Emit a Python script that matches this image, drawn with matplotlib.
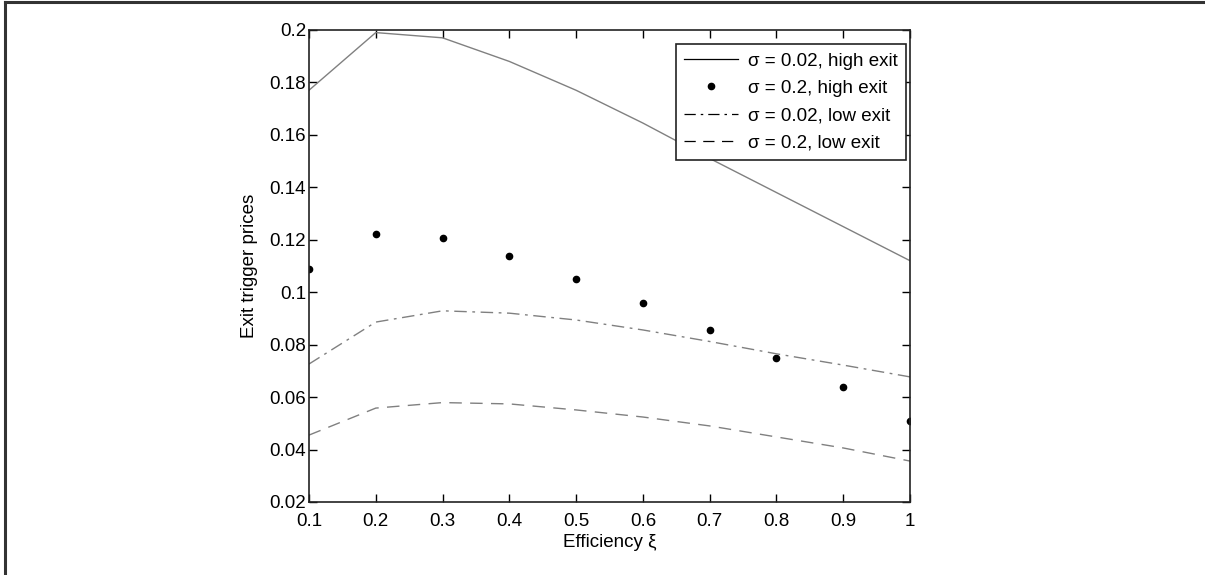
import matplotlib
matplotlib.use("Agg")
import matplotlib.pyplot as plt
from matplotlib.lines import Line2D
import numpy as np

plt.rcParams["font.family"] = ["Liberation Sans", "DejaVu Sans"]

efficiency = [0.1, 0.2, 0.3, 0.4, 0.5, 0.6, 0.7, 0.8, 0.9, 1.0]
high_exit_s002 = [0.177, 0.199, 0.197, 0.188, 0.177, 0.1645, 0.151, 0.138, 0.125, 0.112]
high_exit_s02 = [0.109, 0.122, 0.1205, 0.1137, 0.105, 0.0957, 0.0855, 0.0749, 0.0638, 0.0510]
low_exit_s002 = [0.0726, 0.0886, 0.0929, 0.0920, 0.0894, 0.0856, 0.0812, 0.0765, 0.0722, 0.0677]
low_exit_s02 = [0.0455, 0.0558, 0.0579, 0.0574, 0.0551, 0.0524, 0.0490, 0.0448, 0.0406, 0.0356]

labels = ["σ = 0.02, high exit", "σ = 0.2, high exit",
          "σ = 0.02, low exit", "σ = 0.2, low exit"]
x_ticks = [0.1, 0.2, 0.3, 0.4, 0.5, 0.6, 0.7, 0.8, 0.9, 1.0]
y_ticks = [0.02, 0.04, 0.06, 0.08, 0.1, 0.12, 0.14, 0.16, 0.18, 0.2]

fig = plt.figure(figsize=(12.05, 5.75), dpi=100)
ax = fig.add_axes([0.2564, 0.1270, 0.4988, 0.8209])

ax.plot(efficiency, high_exit_s002, color="#808080", lw=1.0, label=labels[0])
ax.plot(efficiency, high_exit_s02, ls="none", marker="o", ms=4.5, color="black", label=labels[1])
ax.plot(efficiency, low_exit_s002, color="#808080", lw=1.0, dashes=(9, 4, 2, 4), label=labels[2])
ax.plot(efficiency, low_exit_s02, color="#808080", lw=1.0, dashes=(9, 6), label=labels[3])

ax.set_xlim(0.1, 1.0)
ax.set_ylim(0.02, 0.2)
ax.set_xticks(x_ticks)
ax.set_xticklabels(["0.1", "0.2", "0.3", "0.4", "0.5", "0.6", "0.7", "0.8", "0.9", "1"])
ax.set_yticks(y_ticks)
ax.set_yticklabels(["0.02", "0.04", "0.06", "0.08", "0.1", "0.12", "0.14", "0.16", "0.18", "0.2"])
ax.tick_params(direction="in", top=True, right=True, length=6, width=1,
               labelsize=13.5, colors="black")
ax.tick_params(axis="x", pad=8)
ax.tick_params(axis="y", pad=2)
for s in ax.spines.values():
    s.set_linewidth(1.2)
    s.set_color("#222222")

ax.set_xlabel("Efficiency ξ", fontsize=13.5, labelpad=3)
ax.set_ylabel("Exit trigger prices", fontsize=13.5, labelpad=8)

leg = ax.legend(loc="upper right", bbox_to_anchor=(0.9933, 0.9703), borderaxespad=0,
                fontsize=13.5, fancybox=False, edgecolor="#222222", framealpha=1,
                handlelength=2.9, handletextpad=0.5, labelspacing=0.55,
                borderpad=0.45, markerscale=1.0)
leg.get_frame().set_linewidth(1.2)
for h in leg.get_lines():
    if h.get_linestyle() != "None":
        h.set_color("black")
        h.set_linewidth(0.9)

# outer page frame (top and left edges)
fig.add_artist(Line2D([5 / 1205, 1.0], [1 - 1.5 / 575, 1 - 1.5 / 575],
                      transform=fig.transFigure, color="#333333", lw=2.2))
fig.add_artist(Line2D([5 / 1205, 5 / 1205], [0.0, 1 - 1.5 / 575],
                      transform=fig.transFigure, color="#333333", lw=2.2))

fig.savefig("out.png", dpi=100)
